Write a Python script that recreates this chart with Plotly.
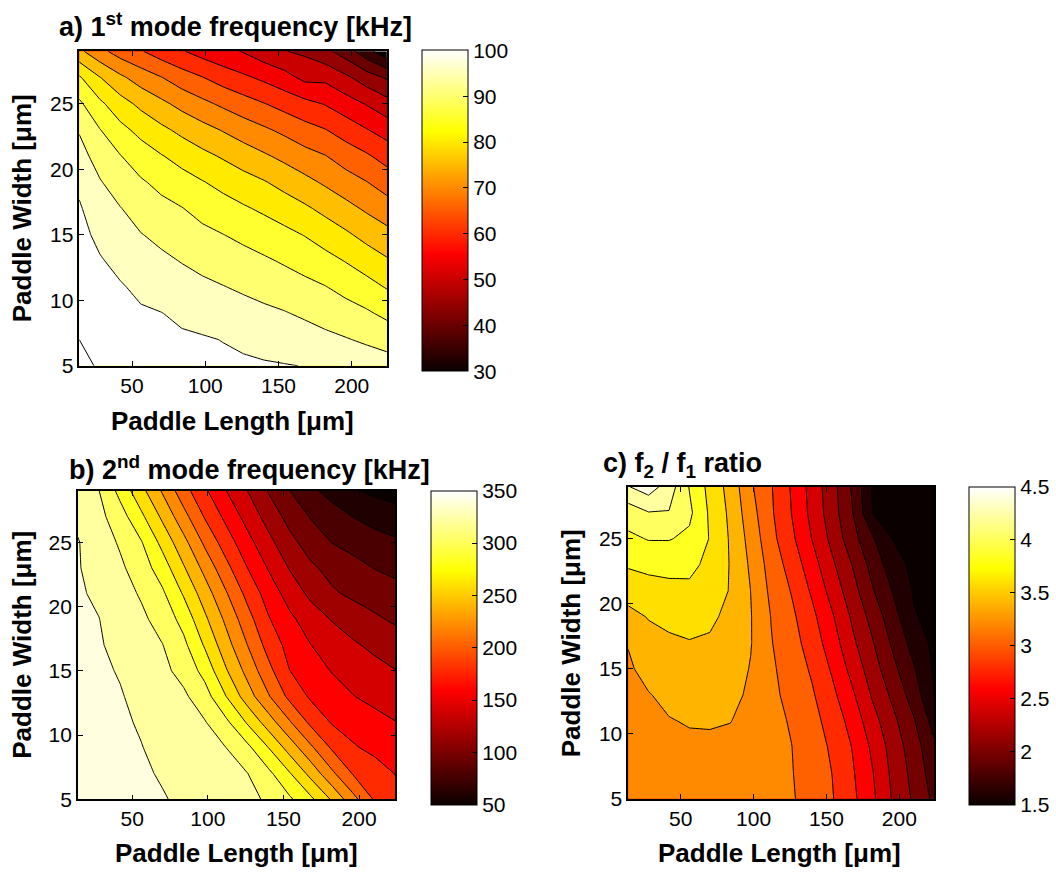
import plotly.graph_objects as go

# ---------------------------------------------------------------- data
paddle_length = [14, 28, 42, 56, 70, 84, 98, 112, 126, 140, 154, 168, 182, 196, 210, 224]
paddle_width = [5, 7, 9, 11, 13, 15, 17, 19, 21, 23, 25, 27, 29]

# 1st mode frequency [kHz]; one list per paddle length (values along paddle width)
f1_by_length = [
    [106.0, 105.0, 104.1, 103.2, 102.3, 101.4, 100.5, 99.0, 96.9, 94.6, 90.9, 85.6, 76.1],
    [104.6, 103.5, 102.5, 101.5, 100.4, 98.9, 97.2, 95.4, 92.9, 90.2, 86.0, 80.2, 71.5],
    [103.2, 102.4, 101.5, 100.4, 98.8, 96.9, 95.2, 92.5, 90.2, 86.4, 82.0, 76.0, 67.8],
    [102.4, 101.5, 100.5, 99.1, 97.2, 95.2, 92.9, 90.6, 87.4, 83.6, 78.8, 72.7, 65.4],
    [101.8, 101.0, 100.1, 98.1, 96.0, 93.8, 91.4, 88.7, 85.3, 81.1, 76.1, 70.2, 62.5],
    [101.4, 100.6, 99.2, 97.0, 94.8, 92.4, 90.2, 86.9, 83.3, 78.8, 73.5, 67.3, 60.4],
    [101.1, 100.4, 98.3, 96.0, 93.7, 91.2, 88.4, 85.3, 81.3, 76.7, 71.2, 65.2, 58.1],
    [100.8, 99.9, 97.6, 95.2, 92.7, 90.1, 87.0, 83.6, 79.5, 74.7, 69.1, 62.8, 56.3],
    [100.6, 99.3, 96.8, 94.3, 91.7, 88.9, 85.6, 81.9, 77.6, 72.6, 67.1, 60.9, 54.7],
    [100.4, 98.6, 96.0, 93.4, 90.7, 87.6, 84.2, 80.4, 75.7, 70.8, 65.2, 59.0, 52.1],
    [100.2, 97.9, 95.3, 92.4, 89.5, 86.3, 82.6, 78.4, 73.8, 68.9, 63.2, 56.8, 50.2],
    [99.9, 97.1, 94.3, 91.3, 88.2, 84.8, 80.8, 76.4, 71.8, 66.8, 61.4, 53.7, 49.1],
    [99.2, 96.2, 93.1, 90.2, 86.6, 82.8, 78.7, 74.3, 70.2, 65.2, 59.7, 53.8, 46.4],
    [98.7, 95.3, 92.0, 88.5, 84.8, 80.8, 76.5, 72.2, 67.7, 62.8, 57.2, 51.0, 42.5],
    [97.8, 94.3, 90.7, 86.8, 82.7, 78.5, 74.3, 70.2, 65.7, 60.3, 54.7, 47.5, 36.9],
    [97.2, 93.1, 88.9, 84.7, 80.6, 76.5, 72.2, 67.8, 63.1, 57.9, 51.9, 44.4, 31.5],
]

# 2nd mode frequency [kHz]; one list per paddle width (values along paddle length)
f2_by_width = [
    [350, 348.5, 346, 343.5, 341, 337.4, 332.9, 328.4, 323.9, 317.9, 303.2, 284.3, 257.8, 226.7, 198.2, 186],
    [349, 347, 345, 342, 338.7, 334.2, 329.7, 325.2, 320.6, 305, 281.8, 254, 224.4, 198.7, 189.3, 179.5],
    [348, 346, 343.5, 340.5, 335.5, 330.4, 325.3, 320.2, 305.4, 280.4, 252, 224, 197.8, 182.2, 175.4, 170],
    [347, 345, 342.5, 338.4, 332.7, 326.9, 321.2, 304.3, 278, 250, 222, 195.4, 178.3, 172.2, 166.1, 160.5],
    [346, 344, 341, 336, 329.7, 323.4, 308.7, 280.3, 250, 222, 195, 177.1, 168.8, 160.6, 155, 150],
    [345, 342.5, 339, 331.8, 324.6, 313.8, 293.3, 262, 234, 206, 180.3, 169.2, 159.1, 152.7, 146.4, 140.5],
    [344, 341.5, 335.3, 327.9, 320.5, 304.7, 277.8, 248, 220.3, 192.7, 173.3, 160.3, 151.3, 142.5, 135.8, 130],
    [343, 340.3, 332, 324, 312.2, 293.3, 264, 236, 208, 181.8, 164.2, 150.7, 138.9, 131.1, 123.3, 117],
    [342, 337.3, 328, 317.9, 303.2, 278, 250, 222, 194.5, 171.4, 152, 135.5, 122.7, 116.2, 111.3, 106.5],
    [341, 334.2, 323.5, 309.7, 290, 262, 234, 206, 180.3, 158.6, 138.9, 123.3, 114.2, 106.8, 99.5, 95.2],
    [341, 330.4, 317.6, 301.2, 274, 246, 216, 190, 166.7, 145.7, 125.7, 111.3, 99.5, 93, 86.5, 83],
    [336, 325.5, 308.6, 284, 256, 226.7, 198.3, 175, 152.9, 132.3, 113.3, 98.6, 89, 79.6, 73.8, 68],
    [330, 320.3, 294, 266, 237.8, 208, 183.3, 160.3, 140.3, 118.7, 100.3, 84.4, 72.6, 62.2, 55.6, 52],
]

# f2 / f1 ratio; one list per paddle length (values along paddle width)
ratio_by_length = [
    [3.24, 3.26, 3.28, 3.31, 3.34, 3.37, 3.41, 3.54, 3.68, 3.82, 3.96, 4.09, 4.39],
    [3.25, 3.28, 3.32, 3.36, 3.39, 3.47, 3.535, 3.61, 3.72, 3.85, 4.01, 4.19, 4.50],
    [3.26, 3.30, 3.34, 3.39, 3.45, 3.51, 3.57, 3.645, 3.745, 3.86, 4.01, 4.19, 4.30],
    [3.27, 3.31, 3.36, 3.415, 3.47, 3.53, 3.59, 3.67, 3.757, 3.85, 3.96, 4.04, 3.99],
    [3.27, 3.31, 3.36, 3.42, 3.47, 3.53, 3.58, 3.63, 3.69, 3.75, 3.79, 3.77, 3.74],
    [3.27, 3.30, 3.35, 3.405, 3.45, 3.49, 3.53, 3.56, 3.59, 3.59, 3.58, 3.56, 3.53],
    [3.26, 3.28, 3.31, 3.34, 3.37, 3.39, 3.41, 3.41, 3.399, 3.37, 3.33, 3.28, 3.23],
    [3.25, 3.26, 3.27, 3.26, 3.24, 3.23, 3.21, 3.195, 3.157, 3.117, 3.062, 3.029, 3.015],
    [3.22, 3.21, 3.203, 3.182, 3.149, 3.115, 3.08, 3.043, 2.989, 2.922, 2.844, 2.798, 2.782],
    [3.117, 3.106, 3.092, 3.066, 3.025, 2.973, 2.911, 2.853, 2.772, 2.689, 2.596, 2.545, 2.527],
    [3.011, 2.997, 2.971, 2.92, 2.848, 2.773, 2.694, 2.621, 2.523, 2.435, 2.343, 2.291, 2.273],
    [2.844, 2.82, 2.789, 2.721, 2.626, 2.529, 2.438, 2.364, 2.276, 2.19, 2.071, 2.002, 1.971],
    [2.632, 2.602, 2.554, 2.469, 2.368, 2.286, 2.208, 2.123, 2.01, 1.919, 1.817, 1.59, 1.57],
    [2.371, 2.344, 2.309, 2.244, 2.148, 2.047, 1.956, 1.869, 1.782, 1.683, 1.59, 1.55, 1.53],
    [2.168, 2.135, 2.093, 2.015, 1.904, 1.816, 1.72, 1.618, 1.58, 1.55, 1.53, 1.51, 1.50],
    [1.95, 1.894, 1.839, 1.714, 1.598, 1.57, 1.55, 1.53, 1.52, 1.51, 1.50, 1.49, 1.48],
]

length_ticks = [50, 100, 150, 200]
width_ticks = [5, 10, 15, 20, 25]
f1_cbar_ticks = [30, 40, 50, 60, 70, 80, 90, 100]
f2_cbar_ticks = [50, 100, 150, 200, 250, 300, 350]
ratio_cbar_ticks = [1.5, 2, 2.5, 3, 3.5, 4, 4.5]

# ---------------------------------------------------------------- styling helpers
W, H = 1056, 878
FONT = "Liberation Sans, Arial, Helvetica, sans-serif"


def hot_rgb(i, m=64):
    """Entry i (1..m) of the 'hot' colormap."""
    n = int(3 * m / 8)
    r = min(i / n, 1.0)
    g = min(max((i - n) / n, 0.0), 1.0)
    b = max((i - 2 * n) / (m - 2 * n), 0.0)
    return "rgb(%d,%d,%d)" % (round(255 * r), round(255 * g), round(255 * b))


def hot_at(v, cmin, cmax, m=64):
    i = int((v - cmin) / (cmax - cmin) * m) + 1
    return hot_rgb(max(1, min(m, i)), m)


HOT_SCALE = [[(k - 1) / 63, hot_rgb(k)] for k in range(1, 65)]


def band_scale(start, step, count, cmin, cmax):
    """Discrete scale: background below first level, then one colour per level."""
    stops = [[0.0, hot_at(cmin, cmin, cmax)]]
    for k in range(count):
        stops.append([(k + 1) / count, hot_at(start + k * step, cmin, cmax)])
    return stops


def px_x(p):
    return p / W


def px_y(p):
    return 1 - p / H


fig = go.Figure()

panels = [
    # z, transpose, levels(start, step, count), clim, cbar ticks, axes, plot box, cbar box
    dict(z=f1_by_length, tr=True, lev=(35, 5, 15), clim=(30, 100), cticks=f1_cbar_ticks,
         ax=("x", "y"), box=(79.5, 388, 52, 370.5), cbar=(423, 51, 321)),
    dict(z=f2_by_width, tr=False, lev=(60, 20, 15), clim=(50, 350), cticks=f2_cbar_ticks,
         ax=("x2", "y2"), box=(78, 396.5, 497, 809.5), cbar=(432, 497, 314)),
    dict(z=ratio_by_length, tr=True, lev=(1.6, 0.2, 15), clim=(1.5, 4.5), cticks=ratio_cbar_ticks,
         ax=("x3", "y3"), box=(630, 937, 493, 809), cbar=(972, 493, 318)),
]

tick_font = dict(family=FONT, size=21, color="black")

for p in panels:
    start, step, count = p["lev"]
    cmin, cmax = p["clim"]
    fig.add_trace(go.Contour(
        x=paddle_length, y=paddle_width, z=p["z"], transpose=p["tr"],
        autocontour=False,
        contours=dict(start=start, end=start + step * (count - 1), size=step, coloring="fill"),
        colorscale=band_scale(start, step, count, cmin, cmax),
        line=dict(color="black", width=1, smoothing=0),
        showscale=False, hoverinfo="skip",
        xaxis=p["ax"][0], yaxis=p["ax"][1],
    ))
    cx, cy, clen = p["cbar"]
    fig.add_trace(go.Scatter(
        x=[120], y=[15], mode="markers",
        marker=dict(size=1, opacity=0, color=[cmin], colorscale=HOT_SCALE, cmin=cmin, cmax=cmax,
                    showscale=True,
                    colorbar=dict(x=px_x(cx), xanchor="left", y=px_y(cy), yanchor="top",
                                  len=clen, lenmode="pixels", thickness=46, thicknessmode="pixels",
                                  outlinewidth=1, outlinecolor="black", xpad=0, ypad=0,
                                  tickvals=p["cticks"], ticks="inside", ticklen=5,
                                  tickcolor="black", tickfont=tick_font)),
        hoverinfo="skip", showlegend=False,
        xaxis=p["ax"][0], yaxis=p["ax"][1],
    ))

layout = dict(
    width=W, height=H, margin=dict(l=0, r=0, t=0, b=0),
    paper_bgcolor="white", plot_bgcolor="white", showlegend=False,
    font=dict(family=FONT, color="black", size=21),
)

for idx, p in enumerate(panels):
    x0, x1, y0, y1 = p["box"]
    sx = "" if idx == 0 else str(idx + 1)
    common = dict(showline=True, linecolor="black", linewidth=1.5, mirror="ticks",
                  ticks="inside", ticklen=5, tickwidth=1, tickcolor="black",
                  showgrid=False, zeroline=False, tickfont=tick_font)
    layout["xaxis" + sx] = dict(domain=[px_x(x0), px_x(x1)], range=[14, 224],
                                tickvals=length_ticks, anchor="y" + sx, **common)
    layout["yaxis" + sx] = dict(domain=[px_y(y1), px_y(y0)], range=[5, 29],
                                tickvals=width_ticks, anchor="x" + sx, **common)

fig.update_layout(**layout)

label_font = dict(family=FONT, size=26, color="black")
title_font = dict(family=FONT, size=27, color="black")

annotations = [
    # panel titles
    dict(text="<b>a) 1<sup>st</sup> mode frequency [kHz]</b>", x=px_x(57), y=px_y(25),
         xanchor="left", yanchor="middle", font=title_font),
    dict(text="<b>b) 2<sup>nd</sup> mode frequency [kHz]</b>", x=px_x(67), y=px_y(474),
         xanchor="left", yanchor="middle", font=title_font),
    dict(text="<b>c) f<sub>2</sub> / f<sub>1</sub> ratio</b>", x=px_x(603), y=px_y(471),
         xanchor="left", yanchor="middle", font=title_font),
    # axis titles
    dict(text="<b>Paddle Length [μm]</b>", x=px_x(233), y=px_y(426), xanchor="center",
         yanchor="middle", font=label_font),
    dict(text="<b>Paddle Length [μm]</b>", x=px_x(237), y=px_y(864), xanchor="center",
         yanchor="middle", font=label_font),
    dict(text="<b>Paddle Length [μm]</b>", x=px_x(782), y=px_y(864), xanchor="center",
         yanchor="middle", font=label_font),
    dict(text="<b>Paddle Width [μm]</b>", x=px_x(22), y=px_y(211), xanchor="center",
         yanchor="middle", textangle=-90, font=label_font),
    dict(text="<b>Paddle Width [μm]</b>", x=px_x(22), y=px_y(653), xanchor="center",
         yanchor="middle", textangle=-90, font=label_font),
    dict(text="<b>Paddle Width [μm]</b>", x=px_x(572), y=px_y(651), xanchor="center",
         yanchor="middle", textangle=-90, font=label_font),
]
for a in annotations:
    a.update(xref="paper", yref="paper", showarrow=False)
fig.update_layout(annotations=annotations)

fig.write_html("out.html")
